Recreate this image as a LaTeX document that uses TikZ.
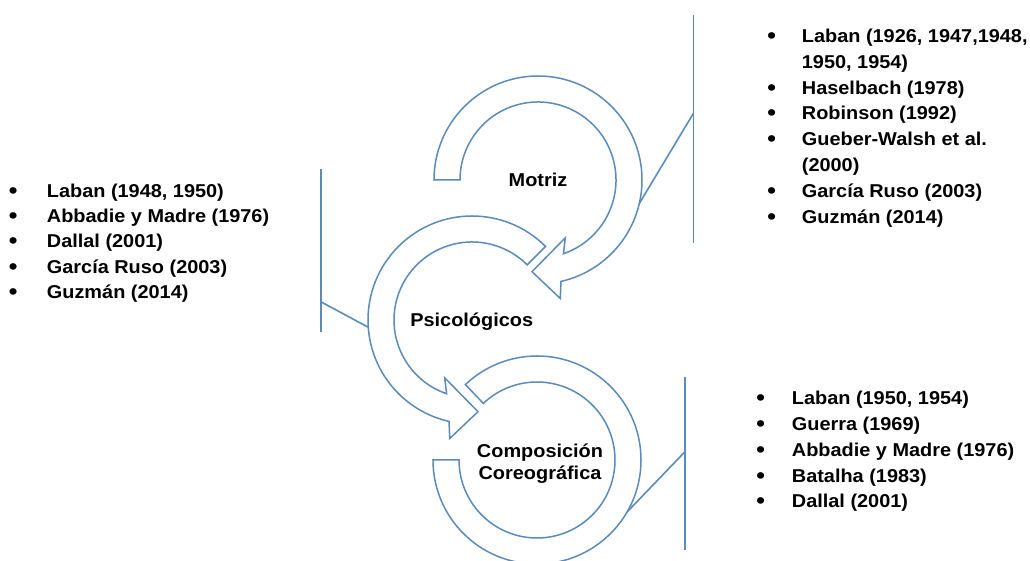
\documentclass[tikz,border=0pt]{standalone}
\usepackage{fontspec}
\setmainfont{Liberation Sans}[FakeStretch=1.07]
\usetikzlibrary{calc}
\definecolor{ringblue}{RGB}{91,139,186}
\newcommand{\listfont}{\fontsize{18.6}{22}\bfseries\selectfont}
\newcommand{\dotfont}{\fontsize{23}{22}\bfseries\selectfont}

\begin{document}
\begin{tikzpicture}[x=1pt,y=1pt,
  ring/.style={draw=ringblue, line width=1.5pt, fill=white, line join=miter},
  bracket/.style={draw=ringblue, line width=1.6pt},
  lbl/.style={anchor=base, inner sep=0pt, font=\listfont},
  entry/.style={anchor=base west, inner sep=0pt, font=\listfont},
  dot/.style={anchor=base, inner sep=0pt, font=\dotfont, yshift=-1pt}]

\useasboundingbox (0,0) rectangle (1030,561);

% ring centres
\coordinate (M) at (538,381);
\coordinate (P) at (472,241);
\coordinate (C) at (537,101);

% brackets joining each ring to its list
\coordinate (mTop) at (693.3,546);
\coordinate (mBot) at (693.3,317.7);
\coordinate (mJoin) at (693.3,447.5);
\coordinate (mTouch) at ($(M)+(-13:104pt)$);
\draw[bracket] (mTop) -- (mBot);
\draw[bracket] (mJoin) -- (mTouch);

\coordinate (pTop) at (320.7,391.7);
\coordinate (pBot) at (320.7,229.3);
\coordinate (pJoin) at (320.7,259.3);
\coordinate (pTouch) at ($(P)+(184:104pt)$);
\draw[bracket] (pTop) -- (pBot);
\draw[bracket] (pJoin) -- (pTouch);

\coordinate (cTop) at (685,184.3);
\coordinate (cBot) at (685,11);
\coordinate (cJoin) at (685,109.3);
\coordinate (cTouch) at ($(C)+(-30:104pt)$);
\draw[bracket] (cTop) -- (cBot);
\draw[bracket] (cJoin) -- (cTouch);

% Motriz: clockwise arrow
\path[ring] ($(M)+(180:104pt)$) arc[start angle=180,end angle=-77.25,radius=104pt]
  -- ($(M)+(22.3pt,-118.5pt)$) -- ($(M)+(-6pt,-91.7pt)$) -- ($(M)+(27.3pt,-57.8pt)$)
  -- ($(M)+(-70.96:78pt)$) arc[start angle=-70.96,end angle=180,radius=78pt] -- cycle;

% Psicologicos: counter-clockwise arrow
\path[ring] ($(P)+(45:104pt)$) arc[start angle=45,end angle=257.25,radius=104pt]
  -- ($(P)+(-22.3pt,-118.5pt)$) -- ($(P)+(6pt,-91.7pt)$) -- ($(P)+(-27.3pt,-57.8pt)$)
  -- ($(P)+(250.96:78pt)$) arc[start angle=250.96,end angle=45,radius=78pt] -- cycle;

% Composicion: open ring without head
\path[ring] ($(C)+(180:104pt)$) arc[start angle=180,end angle=493.5,radius=104pt]
  -- ($(C)+(133.5:78pt)$) arc[start angle=493.5,end angle=180,radius=78pt] -- cycle;

% ring labels
\node[lbl] (motriz) at (538,374.3) {Motriz};
\node[lbl] (psico) at (471.7,234.3) {Psicológicos};
\node[lbl] (comp1) at (540,103.7) {Composición};
\node[lbl] (comp2) at (540,81.7) {Coreográfica};

% left list
\foreach \t [count=\i] in {{Laban (1948, 1950)},{Abbadie y Madre (1976)},{Dallal (2001)},{García Ruso (2003)},{Guzmán (2014)}} {
  \pgfmathsetmacro\yy{363.7-25.3*(\i-1)}
  \node[dot] (lb\i) at (13.3,\yy) {•};
  \node[entry] (lt\i) at (46.7,\yy) {\t};
}

% upper right list
\node[dot] (rb1) at (771.7,518.3) {•};
\node[entry] (rt1) at (801.7,518.3) {Laban (1926, 1947,1948,};
\node[entry] (rt1b) at (801.7,492) {1950, 1954)};
\node[dot] (rb2) at (771.7,466.5) {•};
\node[entry] (rt2) at (801.7,466.5) {Haselbach (1978)};
\node[dot] (rb3) at (771.7,441) {•};
\node[entry] (rt3) at (801.7,441) {Robinson (1992)};
\node[dot] (rb4) at (771.7,415) {•};
\node[entry] (rt4) at (801.7,415) {Gueber-Walsh et al.};
\node[entry] (rt4b) at (801.7,389) {(2000)};
\node[dot] (rb5) at (771.7,363.3) {•};
\node[entry] (rt5) at (801.7,363.3) {García Ruso (2003)};
\node[dot] (rb6) at (771.7,337) {•};
\node[entry] (rt6) at (801.7,337) {Guzmán (2014)};

% lower right list
\foreach \t [count=\i] in {{Laban (1950, 1954)},{Guerra (1969)},{Abbadie y Madre (1976)},{Batalha (1983)},{Dallal (2001)}} {
  \pgfmathsetmacro\yy{156-25.7*(\i-1)}
  \node[dot] (bb\i) at (760.7,\yy) {•};
  \node[entry] (bt\i) at (791.7,\yy) {\t};
}
\end{tikzpicture}
\end{document}
